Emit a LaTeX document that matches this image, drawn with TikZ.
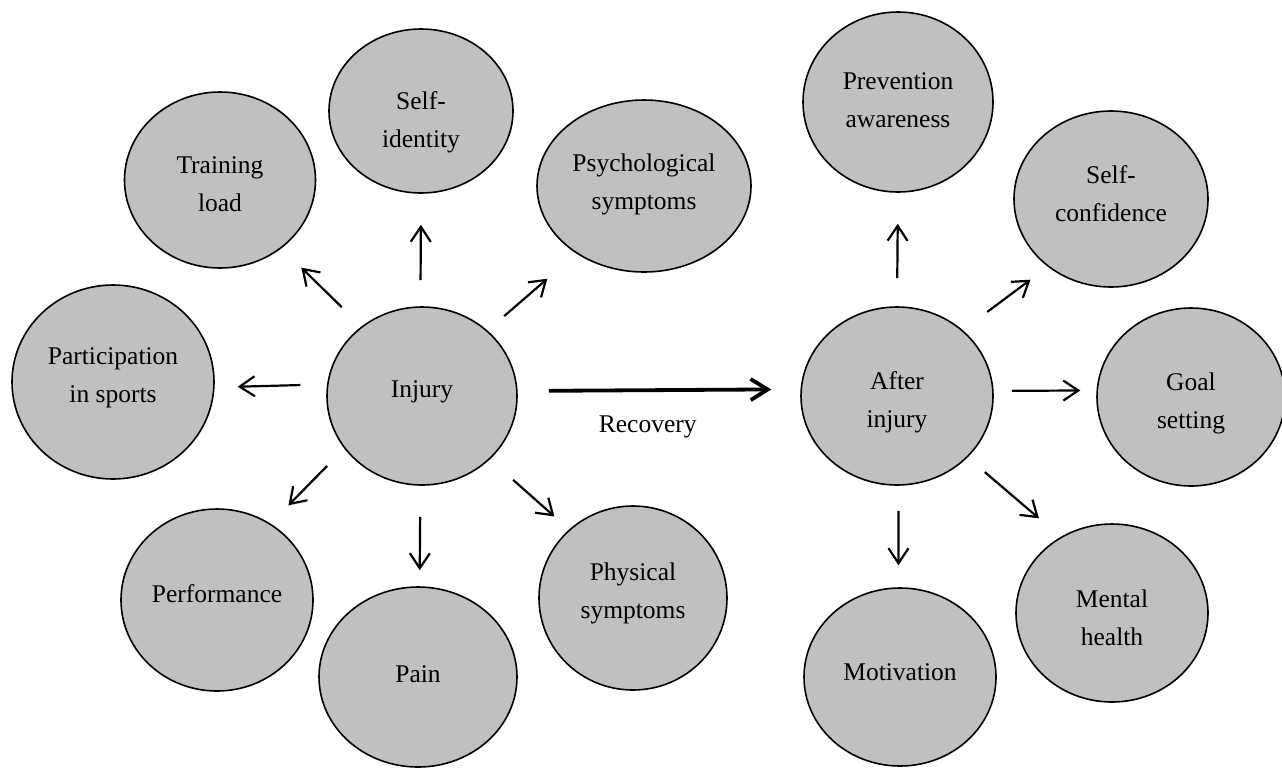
\documentclass[tikz,border=0pt]{standalone}
\usepackage{fontspec}
\setmainfont{Liberation Serif}
\usetikzlibrary{shapes.geometric,arrows.meta}
\definecolor{bubblegray}{RGB}{192,192,192}
\begin{document}
\begin{tikzpicture}[x=1pt,y=-1pt,
  bubble/.style 2 args={ellipse, draw=black, line width=1.6pt, fill=bubblegray,
    inner sep=0pt, minimum width=#1pt, minimum height=#2pt},
  lbl/.style={font=\fontsize{25.5}{38}\selectfont, align=center, text=black, inner sep=0pt},
  thinarrow/.style={line width=2.2pt, -{Straight Barb[length=15pt,width=20pt]}},
  thickarrow/.style={line width=3.8pt, -{Straight Barb[length=17pt,width=21pt]}}]
\useasboundingbox (0,0) rectangle (1282,769);
\clip (0,0) rectangle (1282,769);

% left cluster
\node[bubble={191}{176}, label={[lbl,yshift=-4pt]center:{Training\\load}}] (train) at (220,180) {};
\node[bubble={184}{164}, label={[lbl,yshift=-11pt]center:{Self-\\identity}}] (selfid) at (421,111) {};
\node[bubble={214}{172}, label={[lbl,yshift=2pt]center:{Psychological\\symptoms}}] (psych) at (644,186) {};
\node[bubble={202}{194}, label={[lbl,yshift=4pt]center:{Participation\\in sports}}] (partic) at (113,382) {};
\node[bubble={190}{178}, label={[lbl,yshift=4pt]center:{Injury}}] (injury) at (422,396) {};
\node[bubble={192}{182}, label={[lbl,yshift=6pt]center:{Performance}}] (perf) at (217,600) {};
\node[bubble={198}{180}, label={[lbl,yshift=3pt]center:{Pain}}] (pain) at (418,677) {};
\node[bubble={188}{184}, label={[lbl,yshift=5pt]center:{Physical\\symptoms}}] (phys) at (633,598) {};

% right cluster
\node[bubble={190}{180}, label={[lbl,yshift=2pt]center:{Prevention\\awareness}}] (prev) at (898,102) {};
\node[bubble={194}{176}, label={[lbl,yshift=5pt]center:{Self-\\confidence}}] (selfconf) at (1111,199) {};
\node[bubble={192}{178}, label={[lbl,yshift=-6pt]center:{After\\injury}}] (after) at (897,396) {};
\node[bubble={188}{178}, label={[lbl,yshift=-6pt]center:{Goal\\setting}}] (goal) at (1191,397) {};
\node[bubble={192}{178}, label={[lbl,yshift=-5pt]center:{Mental\\health}}] (mental) at (1112,613) {};
\node[bubble={192}{178}, label={[lbl,yshift=5pt]center:{Motivation}}] (motiv) at (900,677) {};

% connectors from Injury
\draw[thinarrow, shorten <=27.5pt, shorten >=27.7pt] (injury.131.5) -- (train.312.3);
\draw[thinarrow, shorten <=26pt, shorten >=31pt] (injury.91) -- (selfid.270);
\draw[thinarrow, shorten <=22pt, shorten >=38.4pt] (injury.45.7) -- (psych.225.2);
\draw[thinarrow, shorten <=26.6pt, shorten >=23.1pt] (injury.173.95) -- (partic.357.7);
\draw[thinarrow, shorten <=24.5pt, shorten >=25.5pt] (injury.214.5) -- (perf.55.1);
\draw[thinarrow, shorten <=31pt, shorten >=16pt] (injury.269) -- (pain.89);
\draw[thinarrow, shorten <=31pt, shorten >=19.6pt] (injury.317.6) -- (phys.133.1);
\draw[thickarrow, shorten <=31.2pt, shorten >=29.2pt] (injury.3.6) --
  node[lbl, pos=0.46, anchor=base, yshift=-42pt] (recov) {Recovery} (after.176.4);

% connectors from After injury
\draw[thinarrow, shorten <=28pt, shorten >=31pt] (after.90) -- (prev.270);
\draw[thinarrow, shorten <=30.5pt, shorten >=21.6pt] (after.45.7) -- (selfconf.227);
\draw[thinarrow, shorten <=18.2pt, shorten >=16.2pt] (after.3) -- (goal.176.3);
\draw[thinarrow, shorten <=22.7pt, shorten >=28.6pt] (after.319.8) -- (mental.124.5);
\draw[thinarrow, shorten <=25pt, shorten >=22pt] (after.271) -- (motiv.91);
\end{tikzpicture}
\end{document}
